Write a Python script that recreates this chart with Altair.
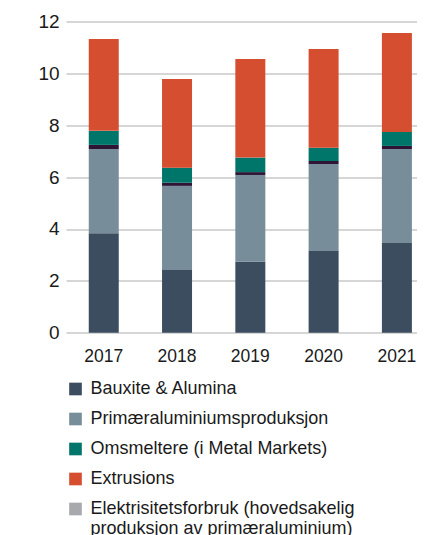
import altair as alt
import pandas as pd

years = ["2017", "2018", "2019", "2020", "2021"]
series = [
    "Bauxite & Alumina",
    "Primæraluminiumsproduksjon",
    "Annet",
    "Omsmeltere (i Metal Markets)",
    "Extrusions",
]
bauxite = [3.83, 2.42, 2.73, 3.15, 3.46]
primaer = [3.25, 3.24, 3.35, 3.35, 3.62]
annet = [0.16, 0.12, 0.11, 0.12, 0.12]
omsmeltere = [0.54, 0.58, 0.56, 0.51, 0.54]
extrusions = [3.54, 3.42, 3.80, 3.81, 3.81]
elektrisitet_name = "Elektrisitetsforbruk (hovedsakelig produksjon av primæraluminium)"

legend_values = [
    "Bauxite & Alumina",
    "Primæraluminiumsproduksjon",
    "Omsmeltere (i Metal Markets)",
    "Extrusions",
    elektrisitet_name,
]
color_domain = series + [elektrisitet_name]
color_range = ["#3b4d5e", "#788d9a", "#2e1536", "#00766a", "#d64e30", "#a8a9ad"]

values = [bauxite, primaer, annet, omsmeltere, extrusions]
rows = []
for si, (name, vals) in enumerate(zip(series, values)):
    for y, v in zip(years, vals):
        rows.append({"year": y, "series": name, "value": v, "order": si})
df = pd.DataFrame(rows)

label_expr = (
    "datum.label == '" + elektrisitet_name + "' ? "
    "['Elektrisitetsforbruk (hovedsakelig', '\u00a0produksjon av primæraluminium)'] : datum.label"
)

chart = (
    alt.Chart(df)
    .mark_bar()
    .encode(
        x=alt.X(
            "year:N",
            sort=years,
            scale=alt.Scale(paddingInner=0.5907, paddingOuter=0.19, align=0.817),
            axis=alt.Axis(
                title=None,
                labelAngle=0,
                domain=False,
                ticks=False,
                tickSize=0,
                labelPadding=15,
                labelFontSize=17.5,
                labelFont="Liberation Sans",
                labelColor="#1a1a1a",
            ),
        ),
        y=alt.Y(
            "value:Q",
            stack="zero",
            scale=alt.Scale(domain=[0, 12], nice=False),
            axis=alt.Axis(
                title=None,
                values=[0, 2, 4, 6, 8, 10, 12],
                domain=False,
                ticks=False,
                tickSize=0,
                labelPadding=7,
                labelFontSize=19,
                labelFont="Liberation Sans",
                labelColor="#1a1a1a",
                gridColor="#c8c8c8",
                gridWidth=1.5,
            ),
        ),
        color=alt.Color(
            "series:N",
            scale=alt.Scale(domain=color_domain, range=color_range),
            legend=alt.Legend(
                title=None,
                values=legend_values,
                orient="none",
                legendX=0.5,
                legendY=358.6,
                direction="vertical",
                symbolType="square",
                symbolSize=160,
                symbolStrokeWidth=0,
                labelFontSize=18,
                labelFont="Liberation Sans",
                labelColor="#1a1a1a",
                labelLimit=400,
                labelOffset=6,
                rowPadding=12,
                padding=0,
                labelExpr=label_expr,
            ),
        ),
        order=alt.Order("order:Q", sort="ascending"),
    )
    .properties(
        width=351,
        height=311.3,
        autosize=alt.AutoSizeParams(type="none"),
        padding={"left": 58, "top": 13.4, "right": 0, "bottom": 202},
    )
    .configure_view(stroke=None)
)

chart.save("out.html", embed_options={"renderer": "svg", "actions": False})
